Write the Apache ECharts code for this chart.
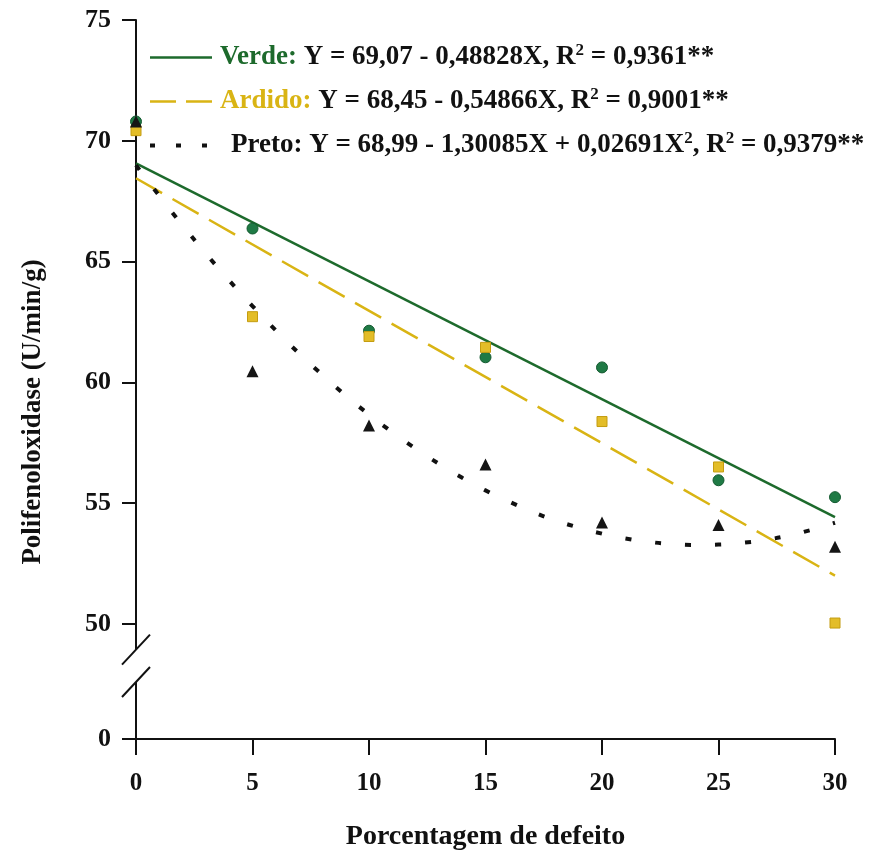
<!DOCTYPE html>
<html>
<head>
<meta charset="utf-8">
<script src="https://cdn.jsdelivr.net/npm/echarts@6/dist/echarts.min.js"></script>
<style>html,body{margin:0;padding:0;background:#fff;}#c{width:874px;height:859px;}</style>
</head>
<body>
<div id="c"></div>
<script>
// ---- data ----
const xTicks = [0, 5, 10, 15, 20, 25, 30];
const xPoints = [0, 5, 10, 15, 20, 25, 30];
const verdePts = [70.8, 66.37, 62.14, 61.04, 60.62, 55.95, 55.25];
const ardidoPts = [70.42, 62.72, 61.9, 61.45, 58.38, 56.5, 50.04];
const pretoPts = [70.8, 60.46, 58.22, 56.6, 54.2, 54.1, 53.2];
// trend lines
const verdeLineX = [0, 30];
const verdeLineY = [69.07, 54.42];
const ardidoLineX = [0, 30];
const ardidoLineY = [68.45, 52.0];
const pretoCurveX = [0,1,2,3,4,5,6,7,8,9,10,11,12,13,14,15,16,17,18,19,20,21,22,23,24,25,26,27,28,29,30];
const pretoCurveY = [68.99,67.72,66.50,65.33,64.22,63.16,62.15,61.20,60.31,59.46,58.67,57.94,57.26,56.63,56.05,55.53,55.07,54.65,54.29,53.99,53.74,53.54,53.40,53.31,53.27,53.29,53.36,53.48,53.66,53.90,54.19];
// y axis: broken scale; the "0" tick is placed just below the break
const yTickValues = [45.24, 50, 55, 60, 65, 70, 75];
const yTickLabels = ['0', '50', '55', '60', '65', '70', '75'];
const legendNames = ['Verde', 'Ardido', 'Preto'];
const legendEq = {
  'Verde': ['Y = 69,07 - 0,48828X, R', '2', ' = 0,9361**'],
  'Ardido': ['Y = 68,45 - 0,54866X, R', '2', ' = 0,9001**'],
  'Preto': ['Y = 68,99 - 1,30085X + 0,02691X', '2', ', R', '2', ' = 0,9379**']
};

const GREEN = '#1d6a2c';
const GOLD = '#d9b414';
const BLACK = '#111';
const FONT = '"Liberation Serif", "Times New Roman", serif';
const LFS = 27;

const chart = echarts.init(document.getElementById('c'), null, {renderer: 'canvas'});

function pairs(xs, ys) { return xs.map((x, i) => [x, ys[i]]); }

function legendFmt(name) {
  const parts = legendEq[name];
  const key = name === 'Verde' ? 'g' : (name === 'Ardido' ? 'y' : 'k');
  let s = (name === 'Preto' ? '{sp2|}' : '{sp|}') + '{' + key + '|' + name + ':} ';
  parts.forEach(p => {
    if (p === '2') s += '{sup|2}';
    else s += '{k|' + p + '}';
  });
  return s;
}

const option = {
  backgroundColor: '#fff',
  animation: false,
  grid: {left: 136, right: 39, top: 20, bottom: 120, containLabel: false},
  legend: {
    data: [
      {name: legendNames[0], lineStyle: {width: 2.5}},
      {name: legendNames[1], lineStyle: {type: [26, 10], width: 2.5}},
      {name: legendNames[2], lineStyle: {type: [5, 21], width: 4}}
    ],
    orient: 'vertical',
    left: 143,
    top: 37,
    itemWidth: 62,
    itemHeight: 14,
    itemGap: 15,
    itemStyle: {opacity: 0},
    formatter: legendFmt,
    textStyle: {
      fontFamily: FONT, fontWeight: 'bold', fontSize: LFS, color: BLACK,
      rich: {
        sp: {width: 3},
        sp2: {width: 14},
        g: {fontFamily: FONT, fontWeight: 'bold', fontSize: LFS, color: GREEN},
        y: {fontFamily: FONT, fontWeight: 'bold', fontSize: LFS, color: GOLD},
        k: {fontFamily: FONT, fontWeight: 'bold', fontSize: LFS, color: BLACK},
        sup: {fontFamily: FONT, fontWeight: 'bold', fontSize: 17, color: BLACK, padding: [0, 0, 14, 0]}
      }
    }
  },
  xAxis: {
    type: 'value', min: 0, max: 30, interval: 5,
    name: 'Porcentagem de defeito', nameLocation: 'middle', nameGap: 84,
    nameTextStyle: {fontFamily: FONT, fontWeight: 'bold', fontSize: 28, color: BLACK},
    axisLine: {show: true, onZero: false, lineStyle: {color: BLACK, width: 2}},
    axisTick: {show: true, inside: false, length: 16, lineStyle: {color: BLACK, width: 2}},
    axisLabel: {margin: 32, fontFamily: FONT, fontWeight: 'bold', fontSize: 25, color: BLACK,
      formatter: v => String(xTicks[xTicks.indexOf(v)])},
    splitLine: {show: false}
  },
  yAxis: {
    type: 'value', min: 45.24, max: 75,
    axisLine: {show: true, onZero: false, lineStyle: {color: BLACK, width: 2}},
    axisTick: {show: true, inside: false, length: 14, customValues: yTickValues, lineStyle: {color: BLACK, width: 2}},
    axisLabel: {margin: 25, fontFamily: FONT, fontWeight: 'bold', fontSize: 26, color: BLACK,
      customValues: yTickValues,
      formatter: v => yTickLabels[yTickValues.indexOf(v)]},
    splitLine: {show: false}
  },
  series: [
    {name: 'Verde', type: 'line', data: pairs(verdeLineX, verdeLineY), symbol: 'none',
      lineStyle: {color: GREEN, width: 2.5}, itemStyle: {color: GREEN}, z: 3},
    {name: 'Ardido', type: 'line', data: pairs(ardidoLineX, ardidoLineY), symbol: 'none',
      lineStyle: {color: GOLD, width: 2.5, type: [30, 12]}, itemStyle: {color: GOLD}, z: 3},
    {name: 'Preto', type: 'line', data: pairs(pretoCurveX, pretoCurveY), symbol: 'none', smooth: true,
      lineStyle: {color: BLACK, width: 4, type: [6, 24]}, itemStyle: {color: BLACK}, z: 3},
    {name: 'Verde pts', type: 'scatter', data: pairs(xPoints, verdePts), symbol: 'circle', symbolSize: 11,
      itemStyle: {color: '#1f7a45', borderColor: '#145a30', borderWidth: 1, opacity: 1}, z: 4},
    {name: 'Ardido pts', type: 'scatter', data: pairs(xPoints, ardidoPts), symbol: 'rect', symbolSize: 10,
      itemStyle: {color: '#e3bd28', borderColor: '#c49c10', borderWidth: 1, opacity: 1}, z: 5},
    {name: 'Preto pts', type: 'scatter', data: pairs(xPoints, pretoPts), symbol: 'triangle', symbolSize: 12,
      itemStyle: {color: '#151515', opacity: 1}, z: 6}
  ]
};
chart.setOption(option);

// axis break decoration + rotated y title
const ax = chart.convertToPixel({xAxisIndex: 0}, 0);
const yTopBreak = chart.convertToPixel({yAxisIndex: 0}, 48.94);
const yBotBreak = chart.convertToPixel({yAxisIndex: 0}, 47.6);
chart.setOption({
  graphic: [
    {type: 'rect', shape: {x: ax - 3, y: yTopBreak, width: 6, height: yBotBreak - yTopBreak},
      style: {fill: '#fff'}, z: 100},
    {type: 'line', shape: {x1: ax - 14, y1: yTopBreak + 15, x2: ax + 14, y2: yTopBreak - 15},
      style: {stroke: BLACK, lineWidth: 2}, z: 101},
    {type: 'line', shape: {x1: ax - 14, y1: yBotBreak + 15, x2: ax + 14, y2: yBotBreak - 15},
      style: {stroke: BLACK, lineWidth: 2}, z: 101},
    {type: 'text', x: 33, y: 412, rotation: Math.PI / 2,
      style: {text: 'Polifenoloxidase (U/min/g)', fontFamily: FONT, fontWeight: 'bold', fontSize: 27,
        fill: BLACK, align: 'center', verticalAlign: 'middle'}, z: 100}
  ]
});
</script>
</body>
</html>
